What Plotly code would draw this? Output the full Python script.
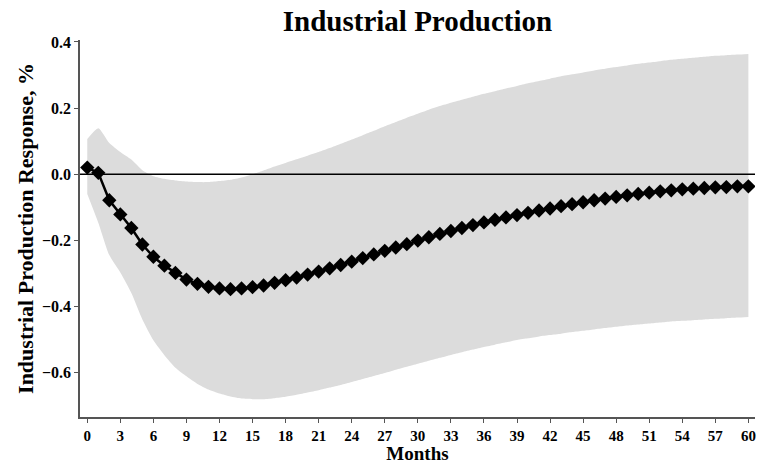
import plotly.graph_objects as go

# Impulse response of industrial production (%), months 0..60
months = list(range(61))

response = [
    0.020, 0.004, -0.079, -0.122, -0.163, -0.213, -0.250, -0.277, -0.299, -0.319,
    -0.332, -0.341, -0.346, -0.348, -0.346, -0.342, -0.337, -0.329, -0.321, -0.313,
    -0.304, -0.295, -0.285, -0.275, -0.265, -0.254, -0.243, -0.232, -0.222, -0.212,
    -0.201, -0.191, -0.181, -0.172, -0.163, -0.154, -0.146, -0.138, -0.131, -0.124,
    -0.117, -0.110, -0.104, -0.097, -0.091, -0.085, -0.079, -0.074, -0.069, -0.064,
    -0.060, -0.056, -0.052, -0.049, -0.046, -0.044, -0.042, -0.040, -0.039, -0.037,
    -0.037,
]

upper_band = [
    0.106, 0.139, 0.094, 0.067, 0.044, 0.012, -0.006, -0.014, -0.019, -0.022,
    -0.024, -0.024, -0.021, -0.017, -0.010, 0.000, 0.011, 0.023, 0.034, 0.045,
    0.056, 0.067, 0.079, 0.092, 0.105, 0.118, 0.131, 0.145, 0.158, 0.171,
    0.183, 0.195, 0.206, 0.216, 0.225, 0.234, 0.243, 0.251, 0.259, 0.267,
    0.275, 0.282, 0.289, 0.296, 0.302, 0.308, 0.314, 0.319, 0.324, 0.329,
    0.334, 0.338, 0.342, 0.346, 0.349, 0.352, 0.355, 0.358, 0.360, 0.362,
    0.364,
]

lower_band = [
    -0.060, -0.147, -0.245, -0.298, -0.360, -0.440, -0.503, -0.548, -0.586, -0.612,
    -0.635, -0.652, -0.664, -0.673, -0.679, -0.681, -0.681, -0.678, -0.674, -0.668,
    -0.661, -0.654, -0.646, -0.638, -0.629, -0.620, -0.611, -0.602, -0.592, -0.583,
    -0.574, -0.565, -0.556, -0.547, -0.539, -0.531, -0.523, -0.516, -0.509, -0.502,
    -0.497, -0.491, -0.487, -0.483, -0.478, -0.474, -0.470, -0.466, -0.462, -0.458,
    -0.455, -0.452, -0.449, -0.446, -0.444, -0.442, -0.440, -0.438, -0.436, -0.434,
    -0.432,
]

x_ticks = list(range(0, 61, 3))
y_ticks = [-0.6, -0.4, -0.2, 0.0, 0.2, 0.4]

FONT = "Liberation Serif, Times New Roman, serif"
AXIS_COLOR = "#555555"
BAND_COLOR = "#dcdcdc"

fig = go.Figure()

# Confidence band
fig.add_trace(go.Scatter(
    x=months, y=lower_band, mode="lines",
    line=dict(width=0, color=BAND_COLOR, shape="spline", smoothing=0.6),
    hoverinfo="skip", showlegend=False,
))
fig.add_trace(go.Scatter(
    x=months, y=upper_band, mode="lines", fill="tonexty",
    fillcolor=BAND_COLOR,
    line=dict(width=0, color=BAND_COLOR, shape="spline", smoothing=0.6),
    hoverinfo="skip", showlegend=False,
))

# Point estimate
fig.add_trace(go.Scatter(
    x=months, y=response, mode="lines+markers",
    line=dict(color="black", width=2.5),
    marker=dict(symbol="diamond", size=11, color="black"),
    showlegend=False,
))

# Zero reference line across the full plot width
fig.add_shape(
    type="line", xref="paper", x0=0, x1=1, yref="y", y0=0, y1=0,
    line=dict(color="black", width=1.5), layer="above",
)

fig.update_layout(
    width=757, height=464,
    margin=dict(l=80, r=2, t=40, b=47),
    paper_bgcolor="white", plot_bgcolor="white",
    font=dict(family=FONT, color="black"),
    title=dict(
        text="<b>Industrial Production</b>",
        font=dict(family=FONT, size=29, color="black"),
        x=0.5, xref="paper", xanchor="center",
        y=0.978, yref="container", yanchor="top",
    ),
)

fig.update_xaxes(
    range=[-0.66, 60.6],
    tickmode="array", tickvals=x_ticks, ticktext=[f"<b>{t}</b>" for t in x_ticks],
    tickfont=dict(family=FONT, size=15, color="black"),
    ticks="outside", ticklen=4, tickwidth=1, tickcolor=AXIS_COLOR,
    showline=True, linecolor=AXIS_COLOR, linewidth=1.5,
    showgrid=False, zeroline=False,
    title=dict(text="<b>Months</b>", font=dict(family=FONT, size=19, color="black"), standoff=3),
)

fig.update_yaxes(
    range=[-0.735, 0.406],
    tickmode="array", tickvals=y_ticks,
    ticktext=[f"<b>{t:.1f}</b>".replace("-", "\u2212") for t in y_ticks],
    tickfont=dict(family=FONT, size=16, color="black"),
    ticks="outside", ticklen=4, tickwidth=1, tickcolor=AXIS_COLOR,
    showline=True, linecolor=AXIS_COLOR, linewidth=1.5,
    showgrid=False, zeroline=False,
    title=dict(text="<b>Industrial Production Response, %</b>",
               font=dict(family=FONT, size=22, color="black"), standoff=2),
)

fig.write_html("out.html")
